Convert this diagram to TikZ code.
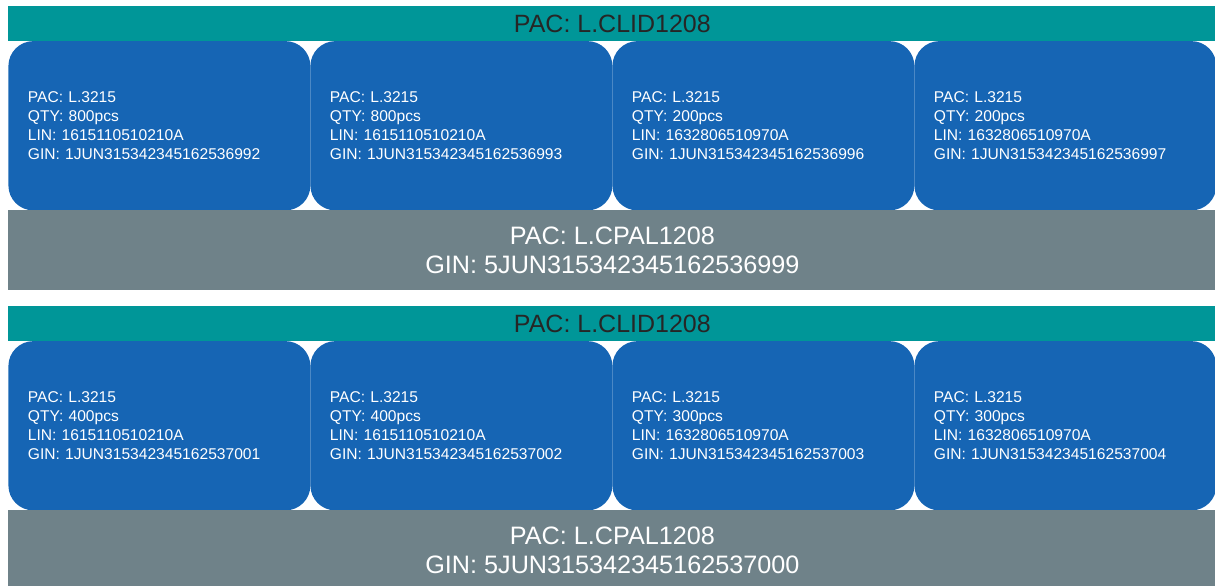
\documentclass[tikz,border=0pt]{standalone}
\usepackage{xcolor}
\usepackage{fontspec}
\setmainfont{Liberation Sans}
\definecolor{clidteal}{RGB}{0,150,152}
\definecolor{pacblue}{RGB}{22,101,180}
\definecolor{cpalgray}{RGB}{111,130,137}

\begin{document}
\begin{tikzpicture}[x=0.5pt,y=-0.5pt]
	\tikzstyle{clid} = [fill=clidteal, anchor=north west, minimum width=604pt, minimum height=17.35pt, inner sep=0pt, text=black!85, font=\fontsize{12.5}{15}\selectfont]
	\tikzstyle{pac} = [fill=pacblue, anchor=north west, rounded corners=12.5pt, minimum width=151pt, minimum height=84.65pt, inner xsep=9.75pt, inner ysep=0pt, text width=131.5pt, align=left, text=white, font=\fontsize{7.8}{9.4}\selectfont]
	\tikzstyle{cpal} = [fill=cpalgray, anchor=north west, minimum width=604pt, minimum height=40pt, inner sep=0pt, align=center, text=white, font=\fontsize{12.6}{14.3}\selectfont]
	
	\useasboundingbox (0,0) rectangle (1215,585);
	\clip (0,0) rectangle (1215,585);
	
	% first pallet
	\node[clid](clid1) at (8,6) {PAC: L.CLID1208};
	\node[pac](pac11) at (8,40.7) {PAC: L.3215\\QTY: 800pcs\\LIN: 1615110510210A\\GIN: 1JUN315342345162536992};
	\node[pac](pac12) at (310,40.7) {PAC: L.3215\\QTY: 800pcs\\LIN: 1615110510210A\\GIN: 1JUN315342345162536993};
	\node[pac](pac13) at (612,40.7) {PAC: L.3215\\QTY: 200pcs\\LIN: 1632806510970A\\GIN: 1JUN315342345162536996};
	\node[pac](pac14) at (914,40.7) {PAC: L.3215\\QTY: 200pcs\\LIN: 1632806510970A\\GIN: 1JUN315342345162536997};
	\node[cpal](cpal1) at (8,210) {PAC: L.CPAL1208\\GIN: 5JUN315342345162536999};
	
	% second pallet
	\node[clid](clid2) at (8,306) {PAC: L.CLID1208};
	\node[pac](pac21) at (8,340.7) {PAC: L.3215\\QTY: 400pcs\\LIN: 1615110510210A\\GIN: 1JUN315342345162537001};
	\node[pac](pac22) at (310,340.7) {PAC: L.3215\\QTY: 400pcs\\LIN: 1615110510210A\\GIN: 1JUN315342345162537002};
	\node[pac](pac23) at (612,340.7) {PAC: L.3215\\QTY: 300pcs\\LIN: 1632806510970A\\GIN: 1JUN315342345162537003};
	\node[pac](pac24) at (914,340.7) {PAC: L.3215\\QTY: 300pcs\\LIN: 1632806510970A\\GIN: 1JUN315342345162537004};
	\node[cpal](cpal2) at (8,510) {PAC: L.CPAL1208\\GIN: 5JUN315342345162537000};
	
\end{tikzpicture}
\end{document}
